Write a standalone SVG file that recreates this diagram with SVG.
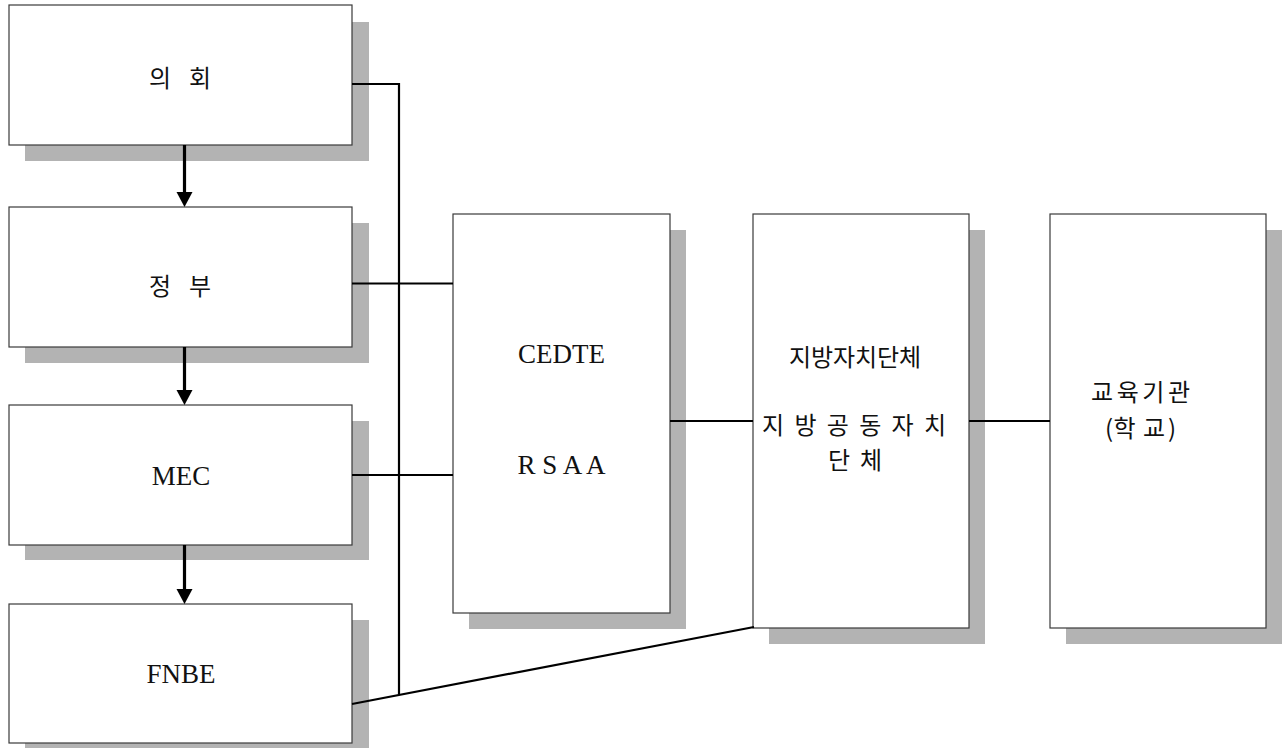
<svg xmlns="http://www.w3.org/2000/svg" width="1285" height="748" viewBox="0 0 1285 748">
<style>
.sh{fill:#b3b3b3}
.bx{fill:#fff;stroke:#3a3a3a;stroke-width:1.2}
.ln{stroke:#000;stroke-width:2.2;fill:none}
.ar{stroke:#000;stroke-width:3.2;fill:none}
.ah{fill:#000}
.ko{font-family:"Noto Sans CJK KR","Noto Sans",sans-serif;font-size:24px;fill:#111}
.la{font-family:"Liberation Serif",serif;font-size:27px;fill:#111}
</style>
<rect width="1285" height="748" fill="#fff"/>
<g id="n-uihoe">
<rect class="sh" x="25" y="22" width="344" height="139"/>
<rect class="bx" x="9" y="5" width="343" height="140"/>
<text class="ko" x="149 173 189" y="76" dominant-baseline="central">의 회</text>
</g>
<g id="n-jeongbu">
<rect class="sh" x="25" y="223" width="344" height="140"/>
<rect class="bx" x="9" y="207" width="343" height="140"/>
<text class="ko" x="149 173 189" y="284" dominant-baseline="central">정 부</text>
</g>
<g id="n-mec">
<rect class="sh" x="25" y="421" width="344" height="139"/>
<rect class="bx" x="9" y="405" width="343" height="140"/>
<text class="la" x="181" y="485" text-anchor="middle">MEC</text>
</g>
<g id="n-fnbe">
<rect class="sh" x="25" y="620" width="344" height="140"/>
<rect class="bx" x="9" y="604" width="343" height="139"/>
<text class="la" x="181" y="683" text-anchor="middle">FNBE</text>
</g>
<g id="n-cedte">
<rect class="sh" x="469" y="230" width="217" height="399"/>
<rect class="bx" x="453" y="214" width="217" height="399"/>
<text class="la" x="561.5" y="363" text-anchor="middle">CEDTE</text>
<text class="la" x="561.5" y="474" text-anchor="middle">R S A A</text>
</g>
<g id="n-local">
<rect class="sh" x="769" y="230" width="216" height="414"/>
<rect class="bx" x="753" y="214" width="216" height="414"/>
<text class="ko" x="789 811 833 855 877 899" y="355" dominant-baseline="central">지방자치단체</text>
<text class="ko" x="762 786 794.4 818 826.8 850 859.2 883 891.6 915 924" y="423" dominant-baseline="central">지 방 공 동 자 치</text>
<text class="ko" x="828 852 860" y="458" dominant-baseline="central">단 체</text>
</g>
<g id="n-school">
<rect class="sh" x="1066" y="230" width="216" height="414"/>
<rect class="bx" x="1050" y="214" width="216" height="414"/>
<text class="ko" x="1091 1116.7 1142.3 1168" y="390" dominant-baseline="central">교육기관</text>
<text class="ko" x="1105 1113.5 1143 1168" y="426" dominant-baseline="central">(학교)</text>
</g>
<g id="connectors">
<polyline class="ln" points="352,84 399,84 399,694"/>
<line class="ln" x1="352" y1="283.5" x2="453" y2="283.5"/>
<line class="ln" x1="352" y1="475" x2="453" y2="475"/>
<line class="ln" x1="352" y1="704" x2="754" y2="627"/>
<line class="ln" x1="670" y1="421" x2="753" y2="421"/>
<line class="ln" x1="969" y1="421" x2="1050" y2="421"/>
<line class="ar" x1="184.5" y1="145" x2="184.5" y2="194"/>
<polygon class="ah" points="176.5,192 192.5,192 184.5,207"/>
<line class="ar" x1="184.5" y1="347" x2="184.5" y2="392"/>
<polygon class="ah" points="176.5,390 192.5,390 184.5,405"/>
<line class="ar" x1="184.5" y1="545" x2="184.5" y2="591"/>
<polygon class="ah" points="176.5,589 192.5,589 184.5,604"/>
</g>
</svg>
